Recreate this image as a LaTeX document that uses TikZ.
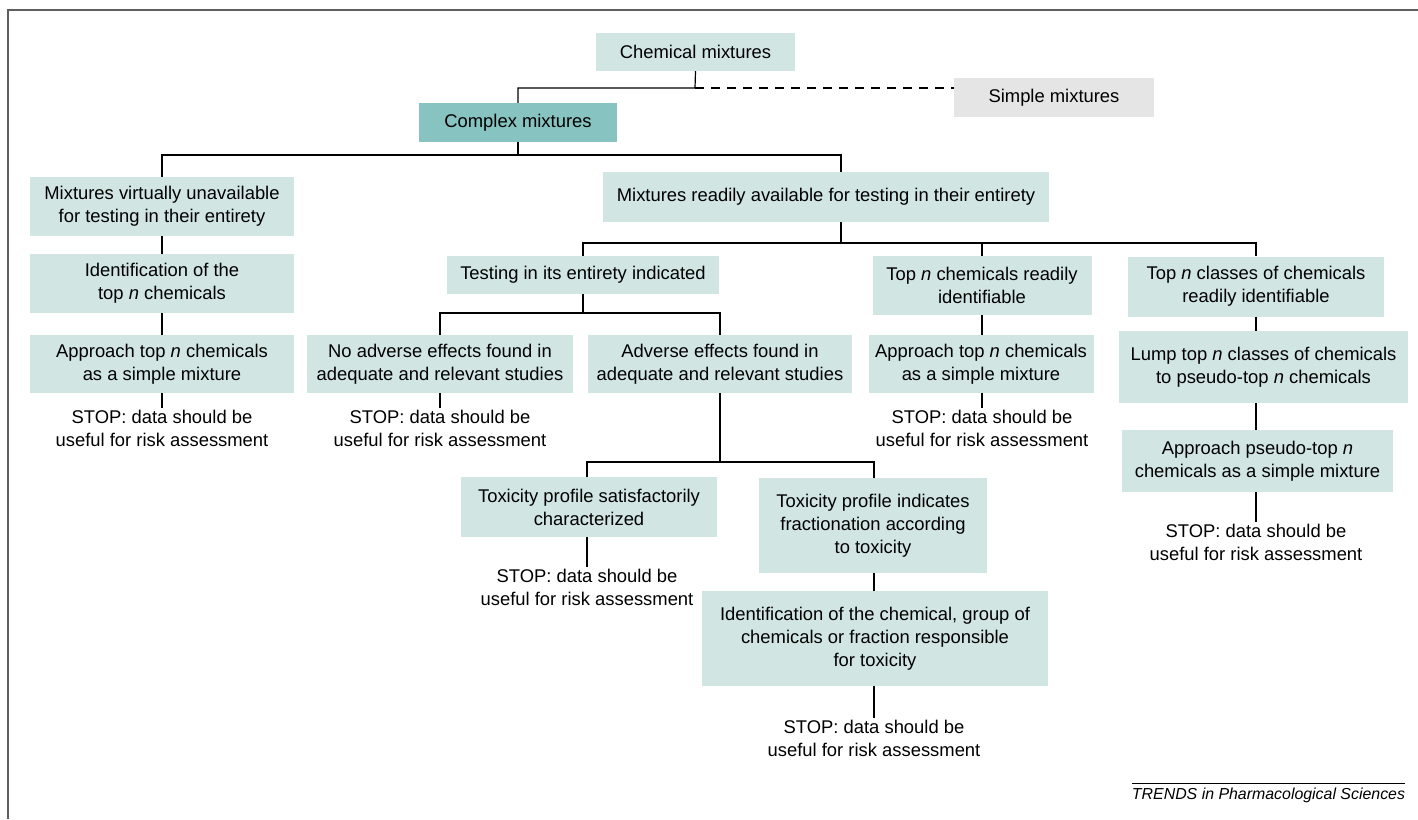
\documentclass[tikz,border=0pt]{standalone}
\usepackage{fontspec}
\setmainfont{Liberation Sans}
\definecolor{paleteal}{RGB}{209,230,227}
\definecolor{darkteal}{RGB}{134,195,193}
\definecolor{palegray}{RGB}{229,229,229}
\definecolor{framegray}{RGB}{95,95,95}
\tikzset{
  box/.style={fill=paleteal, align=center, inner sep=0pt},
  stoptext/.style={align=center, inner sep=2pt},
  link/.style={black, line width=1.2pt},
}
\begin{document}
\begin{tikzpicture}[x=1pt, y=-1pt, font=\fontsize{18.4}{23}\selectfont]
    \useasboundingbox (0,0) rectangle (1418,819);
    % This draws the frame round the figure.
        \draw[framegray, line width=1.7pt] (8,819) -- (8,10) -- (1418,10);
    % Below nodes are the top of the tree.
        \node[box, minimum width=199pt, minimum height=38pt] (chem) at (695.5,52) {Chemical mixtures};
        \node[box, fill=palegray, minimum width=200pt, minimum height=39pt] (simple) at (1054,97.5) {Simple mixtures};
        \node[box, fill=darkteal, minimum width=198pt, minimum height=39pt] (complex) at (518,122.5) {Complex mixtures};
    % Left branch.
        \node[box, minimum width=264pt, minimum height=59pt] (virt) at (162,206.5) {Mixtures virtually unavailable\\for testing in their entirety};
        \node[box, minimum width=264pt, minimum height=59pt] (ident) at (162,283.5) {Identification of the\\top \textit{n} chemicals};
        \node[box, minimum width=264pt, minimum height=58pt] (apprA) at (162,364) {Approach top \textit{n} chemicals\\as a simple mixture};
        \node[stoptext] (stopA) at (162,428.5) {STOP: data should be\\useful for risk assessment};
    % Right branch.
        \node[box, minimum width=446pt, minimum height=50pt] (ready) at (826,197) {Mixtures readily available for testing in their entirety};
        \node[box, minimum width=272pt, minimum height=38pt] (testing) at (583,275) {Testing in its entirety indicated};
        \node[box, minimum width=219pt, minimum height=59pt] (topn) at (982,285.5) {Top \textit{n} chemicals readily\\identifiable};
        \node[box, minimum width=256pt, minimum height=60pt] (classes) at (1256,286.5) {Top \textit{n} classes of chemicals\\readily identifiable};
        \node[box, minimum width=266pt, minimum height=58pt] (noadv) at (440,364) {No adverse effects found in\\adequate and relevant studies};
        \node[box, minimum width=264pt, minimum height=58pt] (adv) at (720,364) {Adverse effects found in\\adequate and relevant studies};
        \node[stoptext] (stopB) at (440,428.5) {STOP: data should be\\useful for risk assessment};
        \node[box, minimum width=225pt, minimum height=58pt] (apprB) at (981,364) {Approach top \textit{n} chemicals\\as a simple mixture};
        \node[stoptext] (stopC) at (982,428.5) {STOP: data should be\\useful for risk assessment};
        \node[box, minimum width=289pt, minimum height=72pt] (lump) at (1263.5,367) {Lump top \textit{n} classes of chemicals\\to pseudo-top \textit{n} chemicals};
        \node[box, minimum width=271pt, minimum height=62pt] (apprC) at (1257.5,461) {Approach pseudo-top \textit{n}\\chemicals as a simple mixture};
        \node[stoptext] (stopD) at (1256,542) {STOP: data should be\\useful for risk assessment};
        \node[box, minimum width=256pt, minimum height=60pt] (toxsat) at (589,507) {Toxicity profile satisfactorily\\characterized};
        \node[box, minimum width=228pt, minimum height=95pt] (toxfrac) at (873,525.5) {Toxicity profile indicates\\fractionation according\\to toxicity};
        \node[stoptext] (stopE) at (587,587.5) {STOP: data should be\\useful for risk assessment};
        \node[box, minimum width=346pt, minimum height=95pt] (identchem) at (875,638.5) {Identification of the chemical, group of\\chemicals or fraction responsible\\for toxicity};
        \node[stoptext] (stopF) at (874,738.5) {STOP: data should be\\useful for risk assessment};
    % This draws the credit line.
        \node[inner sep=0pt, font=\fontsize{15.9}{19}\selectfont\itshape] (credit) at (1268.5,795) {TRENDS in Pharmacological Sciences};
        \draw[black, line width=0.8pt] ([yshift=4pt]credit.north west) -- ([yshift=4pt]credit.north east);
    % Connectors of the tree.
        \coordinate (forkA) at (695,88);
        \draw[link] (chem.south) -- (forkA) -| (complex.north);
        \draw[link, dash pattern=on 9pt off 7pt] (forkA) -- (simple.west |- forkA);
        \draw[link] (complex.south) -- (complex.south |- 0,155);
        \draw[link] (virt.north) |- (841,155) -- (ready.north -| 841,0);
        \draw[link] (virt.south) -- (ident.north);
        \draw[link] (ident.south) -- (apprA.north);
        \draw[link] (apprA.south) -- (stopA.north);
        \draw[link] (ready.south -| 841,0) -- (841,243);
        \draw[link] (testing.north) |- (classes.north |- 0,243) -- (classes.north);
        \draw[link] (topn.north) -- (topn.north |- 0,243);
        \draw[link] (testing.south) -- (testing.south |- 0,313);
        \draw[link] (noadv.north) |- (adv.north |- 0,313) -- (adv.north);
        \draw[link] (noadv.south) -- (stopB.north);
        \draw[link] (topn.south) -- (topn.south |- apprB.north);
        \draw[link] (apprB.south -| stopC.north) -- (stopC.north);
        \draw[link] (classes.south) -- (classes.south |- lump.north);
        \draw[link] (classes.south |- lump.south) -- (classes.south |- apprC.north);
        \draw[link] (classes.south |- apprC.south) -- (stopD.north);
        \draw[link] (adv.south) -- (adv.south |- 0,462);
        \draw[link] (toxsat.north -| stopE.north) |- (stopF.north |- 0,462) -- (toxfrac.north -| stopF.north);
        \draw[link] (toxsat.south -| stopE.north) -- (stopE.north);
        \draw[link] (toxfrac.south -| stopF.north) -- (identchem.north -| stopF.north);
        \draw[link] (identchem.south -| stopF.north) -- (stopF.north);
\end{tikzpicture}
\end{document}
